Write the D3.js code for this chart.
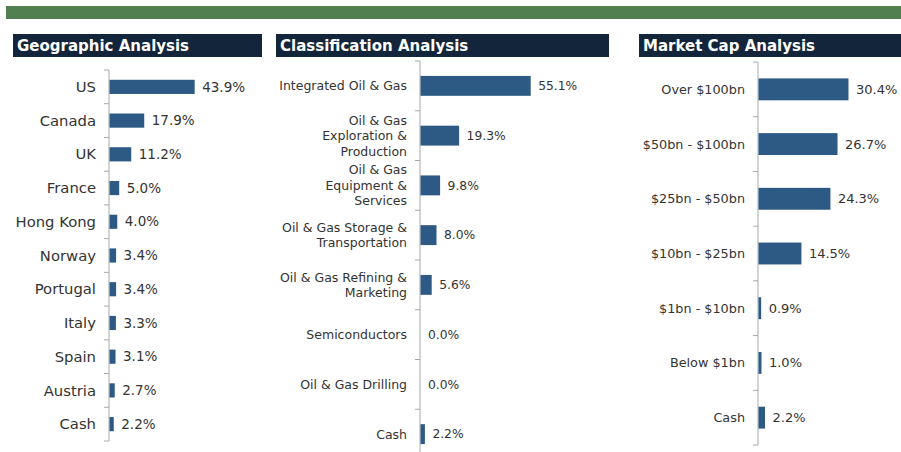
<!DOCTYPE html>
<html>
<head>
<meta charset="utf-8">
<script src="https://cdn.jsdelivr.net/npm/d3@7"></script>
<style>
  body { margin: 0; background: #fff; }
  svg { display: block; font-family: "DejaVu Sans", sans-serif; }
</style>
</head>
<body>
<svg width="901" height="452"></svg>
<script>
// data
const geoCategories = ['US', 'Canada', 'UK', 'France', 'Hong Kong', 'Norway', 'Portugal', 'Italy', 'Spain', 'Austria', 'Cash'];
const geoValues = [43.9, 17.9, 11.2, 5.0, 4.0, 3.4, 3.4, 3.3, 3.1, 2.7, 2.2];

const classCategories = ['Integrated Oil & Gas', 'Oil & Gas\nExploration &\nProduction', 'Oil & Gas\nEquipment &\nServices',
  'Oil & Gas Storage &\nTransportation', 'Oil & Gas Refining &\nMarketing', 'Semiconductors', 'Oil & Gas Drilling', 'Cash'];
const classValues = [55.1, 19.3, 9.8, 8.0, 5.6, 0.0, 0.0, 2.2];

const capCategories = ['Over $100bn', '$50bn - $100bn', '$25bn - $50bn', '$10bn - $25bn', '$1bn - $10bn', 'Below $1bn', 'Cash'];
const capValues = [30.4, 26.7, 24.3, 14.5, 0.9, 1.0, 2.2];

const titles = ['Geographic Analysis', 'Classification Analysis', 'Market Cap Analysis'];

const svg = d3.select('svg');
const fmt = d3.format('.1f');

// green strip on top
svg.append('rect')
  .attr('x', 6).attr('y', 6)
  .attr('width', 895).attr('height', 13)
  .attr('fill', '#527f4f');

const panels = [
  { title: titles[0], cats: geoCategories, vals: geoValues, boxX: 13, boxW: 249,
    axisX: 109, top: 70, bottom: 441, full: 194, pad: 0.58, fs: 14.8, vfs: 13.5, lh: 15 },
  { title: titles[1], cats: classCategories, vals: classValues, boxX: 276, boxW: 333,
    axisX: 420, top: 61, bottom: 459, full: 200, pad: 0.6, fs: 12.5, vfs: 12.3, lh: 15.5 },
  { title: titles[2], cats: capCategories, vals: capValues, boxX: 639, boxW: 262,
    axisX: 758, top: 62, bottom: 445, full: 296, pad: 0.6, fs: 12.8, vfs: 13, lh: 15 }
];

panels.forEach(p => drawPanel(p));

function drawPanel(p) {
  let g = svg.append('g');

  // title box
  g.append('rect')
    .attr('x', p.boxX).attr('y', 34)
    .attr('width', p.boxW).attr('height', 23)
    .attr('fill', '#13253a');
  g.append('text')
    .attr('x', p.boxX + 4).attr('y', 51)
    .attr('fill', '#fff')
    .attr('font-size', '15px')
    .attr('font-weight', 'bold')
    .text(p.title);

  let y = d3.scaleBand()
    .domain(p.cats)
    .range([p.top, p.bottom])
    .paddingInner(p.pad)
    .paddingOuter(p.pad / 2);

  let x = d3.scaleLinear()
    .domain([0, 100])
    .range([p.axisX, p.axisX + p.full]);

  // axis line + ticks between categories
  g.append('line')
    .attr('x1', p.axisX).attr('x2', p.axisX)
    .attr('y1', p.top).attr('y2', p.bottom)
    .attr('stroke', '#a8a8a8');

  let step = y.step();
  g.selectAll('.tick')
    .data(d3.range(p.cats.length + 1))
    .enter()
    .append('line')
      .attr('x1', p.axisX - 5).attr('x2', p.axisX)
      .attr('y1', i => p.top + i * step)
      .attr('y2', i => p.top + i * step)
      .attr('stroke', '#a8a8a8');

  let rows = p.cats.map((c, i) => ({ cat: c, val: p.vals[i] }));

  g.selectAll('.bar')
    .data(rows)
    .enter()
    .append('rect')
      .attr('x', x(0) + 0.5)
      .attr('y', d => y(d.cat))
      .attr('width', d => x(d.val) - x(0))
      .attr('height', y.bandwidth())
      .attr('fill', '#2c5a84');

  // value labels
  g.selectAll('.val')
    .data(rows)
    .enter()
    .append('text')
      .attr('x', d => x(d.val) + 8)
      .attr('y', d => y(d.cat) + y.bandwidth() / 2)
      .attr('dy', '0.35em')
      .attr('font-size', p.vfs + 'px')
      .attr('fill', '#333')
      .text(d => fmt(d.val) + '%');

  // category labels, maybe several lines
  let labels = g.selectAll('.cat')
    .data(rows)
    .enter()
    .append('text')
      .attr('text-anchor', 'end')
      .attr('font-size', p.fs + 'px')
      .attr('fill', '#333')
      .attr('y', d => y(d.cat) + y.bandwidth() / 2);

  labels.each(function(d) {
    let lines = d.cat.split('\n');
    let first = -(lines.length - 1) / 2 * p.lh;
    d3.select(this).selectAll('tspan')
      .data(lines)
      .enter()
      .append('tspan')
        .attr('x', p.axisX - 13)
        .attr('dy', (l, i) => i == 0 ? (first + 0.35 * p.fs) + 'px' : p.lh + 'px')
        .text(l => l);
  });
}
</script>
</body>
</html>
